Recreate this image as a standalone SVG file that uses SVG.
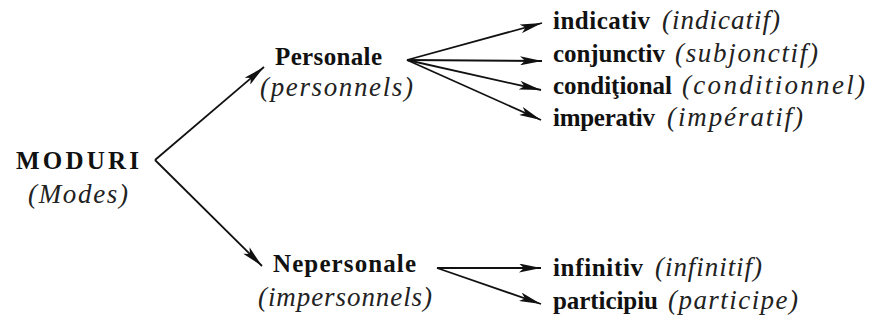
<svg xmlns="http://www.w3.org/2000/svg" width="881" height="330" viewBox="0 0 881 330">
<defs>
<marker id="ah" viewBox="0 0 22 9" refX="22" refY="4.5" markerWidth="22" markerHeight="9" markerUnits="userSpaceOnUse" orient="auto">
<path d="M0,0 L22,4.5 L0,9 L5,4.5 Z" fill="#111"/>
</marker>
</defs>
<rect width="881" height="330" fill="#fff"/>
<g id="connectors" stroke="#111" stroke-width="1.8" fill="none">
<path d="M155,160 L264,67" marker-end="url(#ah)"/>
<path d="M155,160 L262,266" marker-end="url(#ah)"/>
<path d="M407,60 L542,23" marker-end="url(#ah)"/>
<path d="M407,60 L542,61" marker-end="url(#ah)"/>
<path d="M407,60 L541,90" marker-end="url(#ah)"/>
<path d="M407,60 L541,120" marker-end="url(#ah)"/>
<path d="M437,268 L541,268" marker-end="url(#ah)"/>
<path d="M437,268 L541,304" marker-end="url(#ah)"/>
</g>
<g id="moduri">
<text font-family="Liberation Serif, serif" font-weight="bold" font-size="25" fill="#111" x="16" y="169" textLength="123" lengthAdjust="spacing">MODURI</text>
<text font-family="Liberation Serif, serif" font-style="italic" font-size="27" fill="#222" x="28" y="203" textLength="100" lengthAdjust="spacing">(Modes)</text>
</g>
<g id="personale">
<text font-family="Liberation Serif, serif" font-weight="bold" font-size="25" fill="#111" x="275" y="65" textLength="107" lengthAdjust="spacing">Personale</text>
<text font-family="Liberation Serif, serif" font-style="italic" font-size="27" fill="#222" x="260" y="96" textLength="153" lengthAdjust="spacing">(personnels)</text>
</g>
<g id="nepersonale">
<text font-family="Liberation Serif, serif" font-weight="bold" font-size="25" fill="#111" x="273" y="272" textLength="143" lengthAdjust="spacing">Nepersonale</text>
<text font-family="Liberation Serif, serif" font-style="italic" font-size="27" fill="#222" x="258" y="306" textLength="174" lengthAdjust="spacing">(impersonnels)</text>
</g>
<g id="indicativ">
<text font-family="Liberation Serif, serif" font-weight="bold" font-size="25" fill="#111" x="553" y="29" textLength="97" lengthAdjust="spacing">indicativ</text>
<text font-family="Liberation Serif, serif" font-style="italic" font-size="27" fill="#222" x="662" y="29" textLength="118" lengthAdjust="spacing">(indicatif)</text>
</g>
<g id="conjunctiv">
<text font-family="Liberation Serif, serif" font-weight="bold" font-size="25" fill="#111" x="553" y="62" textLength="112" lengthAdjust="spacing">conjunctiv</text>
<text font-family="Liberation Serif, serif" font-style="italic" font-size="27" fill="#222" x="675" y="62" textLength="143" lengthAdjust="spacing">(subjonctif)</text>
</g>
<g id="conditional">
<text font-family="Liberation Serif, serif" font-weight="bold" font-size="25" fill="#111" x="553" y="94" textLength="119" lengthAdjust="spacing">condiţional</text>
<text font-family="Liberation Serif, serif" font-style="italic" font-size="27" fill="#222" x="682" y="94" textLength="183" lengthAdjust="spacing">(conditionnel)</text>
</g>
<g id="imperativ">
<text font-family="Liberation Serif, serif" font-weight="bold" font-size="25" fill="#111" x="553" y="126" textLength="102" lengthAdjust="spacing">imperativ</text>
<text font-family="Liberation Serif, serif" font-style="italic" font-size="27" fill="#222" x="667" y="126" textLength="136" lengthAdjust="spacing">(impératif)</text>
</g>
<g id="infinitiv">
<text font-family="Liberation Serif, serif" font-weight="bold" font-size="25" fill="#111" x="553" y="276" textLength="90" lengthAdjust="spacing">infinitiv</text>
<text font-family="Liberation Serif, serif" font-style="italic" font-size="27" fill="#222" x="655" y="276" textLength="107" lengthAdjust="spacing">(infinitif)</text>
</g>
<g id="participiu">
<text font-family="Liberation Serif, serif" font-weight="bold" font-size="25" fill="#111" x="553" y="309" textLength="105" lengthAdjust="spacing">participiu</text>
<text font-family="Liberation Serif, serif" font-style="italic" font-size="27" fill="#222" x="668" y="309" textLength="130" lengthAdjust="spacing">(participe)</text>
</g>
</svg>
